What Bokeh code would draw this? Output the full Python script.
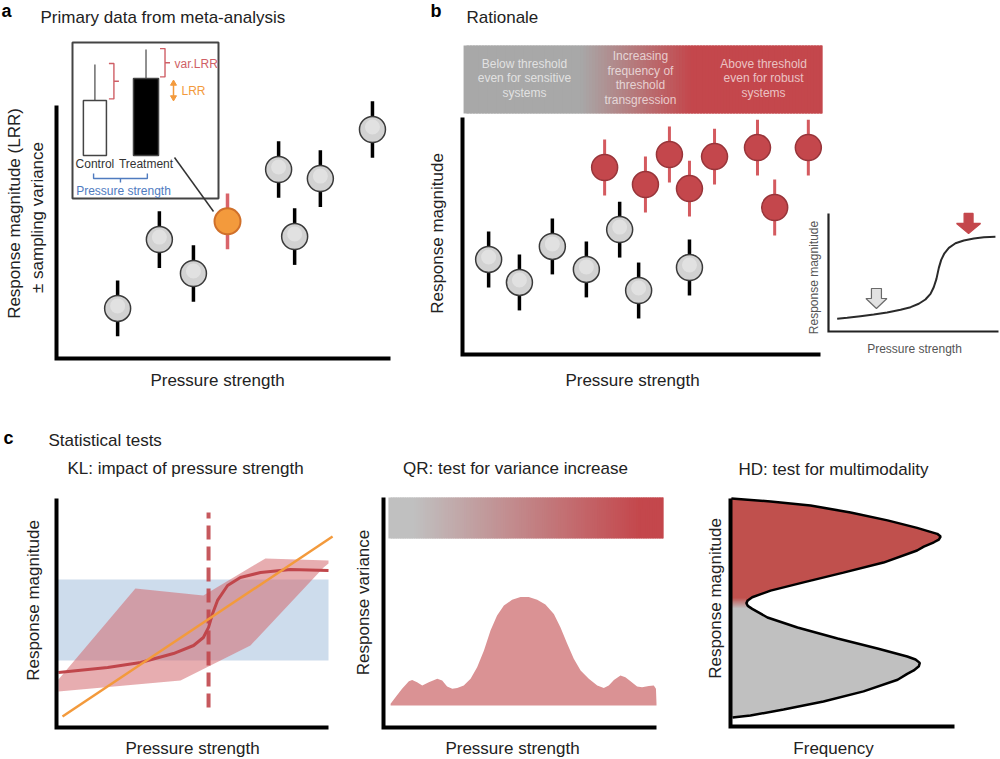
import numpy as np
from bokeh.plotting import figure
from bokeh.models import Range1d
from bokeh.layouts import row, column
from bokeh.embed import file_html
from bokeh.resources import INLINE
from bokeh.core.properties import value

FONT = "Liberation Sans"
INK = "#222222"
RED = "#c4474c"
RED_DARK = "#98353a"
RED_BAR = "#d45a5f"
GRAY_FILL = "#d2d2d2"
ORANGE = "#f39a3c"
BLUE = "#4f7bbf"

# ------------------------------------------------------------------ data
# (a) primary data: pressure strength, LRR, +/- sampling variance (axis units 0-10)
a_pressure = [1.83, 3.08, 4.10, 6.65, 7.13, 7.90, 9.46]
a_lrr = [1.98, 4.70, 3.36, 7.47, 4.82, 7.11, 9.05]
a_var = [1.10, 1.12, 1.12, 1.12, 1.12, 1.12, 1.12]
a_focus_pressure = [5.12]
a_focus_lrr = [5.42]
a_focus_var = [1.10]

# (a) inset: control vs treatment
inset_groups = ["Control", "Treatment"]
inset_pos = [1.15, 2.68]
inset_width = [0.69, 0.75]
inset_mean = [10.20, 11.07]
inset_upper = [11.62, 12.21]
inset_base = 8.02
inset_fill = ["white", "black"]

# (b) rationale
b_gray_pressure = [0.73, 1.59, 2.51, 3.46, 4.39, 4.92, 6.34]
b_gray_response = [4.01, 3.04, 4.56, 3.59, 5.27, 2.70, 3.67]
b_red_pressure = [3.97, 5.11, 5.78, 6.34, 7.04, 8.24, 8.72, 9.66]
b_red_response = [7.89, 7.17, 8.44, 7.00, 8.35, 8.73, 6.20, 8.73]
b_err = 1.18
b_zone_lines = [["Below threshold", "even for sensitive", "systems"],
                ["Increasing", "frequency of", "threshold", "transgression"],
                ["Above threshold", "even for robust", "systems"]]
b_zone_center = [1.73, 4.97, 8.41]
b_band = [0.03, 10.06, 10.17, 13.04]      # left, right, bottom, top
b_band_stops = [3.3, 6.4]

# (b) inset: threshold response curve
b_inset_pressure = [0.51, 1.10, 1.88, 2.66, 3.45, 4.24, 4.83, 5.31, 5.70, 6.00, 6.19,
                    6.35, 6.49, 6.63, 6.82, 7.08, 7.47, 7.96, 8.55, 9.14, 9.82]
b_inset_response = [1.08, 1.16, 1.30, 1.44, 1.61, 1.84, 2.06, 2.35, 2.71, 3.19, 3.75,
                    4.46, 5.39, 6.07, 6.63, 7.09, 7.48, 7.71, 7.88, 7.99, 8.03]
b_arrow_pressure = [2.82, 8.24]
b_arrow_tip = [1.95, 8.31]

# (c) KL
kl_upper_x = [0.07, 2.90, 5.40, 7.68, 10.0]
kl_upper_y = [2.10, 6.07, 5.76, 7.38, 7.29]
kl_lower_x = [10.0, 9.82, 7.13, 4.56, 0.07]
kl_lower_y = [7.16, 6.99, 3.58, 2.05, 1.57]
kl_fit_x = [0.07, 1.88, 3.09, 4.30, 5.04, 5.40, 5.59, 5.74, 5.92, 6.29, 6.76, 7.50, 8.60, 10.0]
kl_fit_y = [2.40, 2.62, 2.84, 3.23, 3.58, 3.93, 4.37, 4.98, 5.55, 6.20, 6.55, 6.77, 6.90, 6.86]
kl_lin_x = [0.22, 10.15]
kl_lin_y = [0.48, 8.34]
kl_breakpoint = 5.59
kl_break_span = [0.87, 9.39]
kl_band = [2.93, 6.46]

# (c) QR
qr_x = [0.26, 0.44, 0.68, 0.93, 1.05, 1.23, 1.42, 1.66, 1.97, 2.15, 2.33, 2.52, 2.70,
        2.94, 3.19, 3.43, 3.68, 3.92, 4.16, 4.41, 4.71, 5.02, 5.32, 5.63, 5.93, 6.24,
        6.48, 6.73, 6.97, 7.22, 7.52, 7.83, 8.07, 8.25, 8.44, 8.68, 8.86, 9.05, 9.29,
        9.47, 9.72, 9.90, 9.98, 10.0]
qr_y = [1.03, 1.32, 1.68, 2.01, 2.07, 1.97, 1.83, 1.97, 2.12, 2.04, 1.78, 1.68, 1.72,
        1.83, 2.12, 2.62, 3.35, 4.22, 4.87, 5.30, 5.55, 5.67, 5.67, 5.55, 5.35, 4.94,
        4.36, 3.64, 2.99, 2.48, 2.12, 1.83, 1.72, 1.83, 2.07, 2.26, 2.19, 2.01, 1.78,
        1.75, 1.80, 1.83, 1.68, 1.03]
qr_base = 0.96
qr_band = [0.18, 10.26, 8.22, 10.0]
qr_band_stops = [1.1, 9.4]

# (c) HD
hd_freq = [0.04, 1.79, 3.57, 5.36, 7.01, 8.33, 8.85, 9.23, 9.38, 9.30, 9.08, 8.63, 8.33,
           6.83, 5.04, 3.26, 1.79, 0.97, 0.77, 0.71, 0.77, 0.97, 1.65, 2.99, 4.78, 6.56,
           7.89, 8.26, 8.45, 8.41, 8.18, 7.89, 7.46, 5.94, 4.15, 2.37, 0.89, 0.09]
hd_resp = [10.0, 9.87, 9.69, 9.39, 9.04, 8.71, 8.56, 8.45, 8.33, 8.20, 8.08, 7.89, 7.72,
           7.19, 6.75, 6.32, 5.96, 5.67, 5.53, 5.41, 5.29, 5.16, 4.78, 4.34, 3.86, 3.42,
           3.07, 2.94, 2.79, 2.64, 2.46, 2.31, 2.05, 1.54, 1.10, 0.75, 0.48, 0.39]
hd_split = 19


# ------------------------------------------------------------------ helpers
class Panel:
    def __init__(self, left, top, W, H, ox, oy, xe, yt):
        self.ox, self.oy = ox, oy
        self.kx = 10.0 / (xe - ox)
        self.ky = 10.0 / (oy - yt)
        self.xr = Range1d(self.X(left), self.X(left + W))
        self.yr = Range1d(self.Y(top + H), self.Y(top))

    def X(self, px):
        return (px - self.ox) * self.kx

    def Y(self, py):
        return (self.oy - py) * self.ky


def make_fig(W, H, P):
    return figure(width=W, height=H, x_range=P.xr, y_range=P.yr,
                  x_axis_type=None, y_axis_type=None, toolbar_location=None, tools="",
                  output_backend="svg", min_border=0, outline_line_color=None,
                  background_fill_color="white", border_fill_color="white")


def T(p, x, y, s, size=17, color=INK, align="left", baseline="middle", angle=0.0,
      bold=False, alpha=1.0, **kw):
    p.text(x=[x], y=[y], text=[s], text_font=value(FONT), text_font_size=value(f"{size}px"),
           text_color=color, text_align=align, text_baseline=baseline, angle=angle,
           text_alpha=alpha, text_font_style="bold" if bold else "normal", **kw)


def axes(p, w=4, color="black", xlen=10, **kw):
    p.line([0, 0, xlen], [10, 0, 0], line_width=w, line_color=color, line_join="miter", **kw)


def mix(c0, c1, t):
    return "#%02x%02x%02x" % tuple(int(round(a + (b - a) * t)) for a, b in zip(c0, c1))


def gradient_band(p, x0, x1, y0, y1, c0, c1, s0, s1, n=120, **kw):
    edges = np.linspace(x0, x1, n + 1)
    step = edges[1] - edges[0]
    mids = (edges[:-1] + edges[1:]) / 2
    t = np.clip((mids - s0) / (s1 - s0), 0, 1)
    cols = [mix(c0, c1, tt) for tt in t]
    rights = np.minimum(edges[1:] + step * 0.8, x1)
    p.quad(left=edges[:-1], right=rights, bottom=y0, top=y1,
           fill_color=cols, line_color=None, **kw)


def dots(p, P, xs, ys, fill, line, lw=1.5):
    p.scatter(xs, ys, size=26, marker="circle", fill_color=fill, line_color=line, line_width=lw)
    p.scatter(xs, [y + 2.5 * P.ky for y in ys], size=15, marker="circle",
              fill_color="white", fill_alpha=0.35, line_color=None)


# ------------------------------------------------------------------ panel a
PA = Panel(0, 0, 425, 398, 56, 358, 390, 105)
fa = make_fig(425, 398, PA)
axes(fa)
fa.segment(x0=a_pressure, y0=[y - e for y, e in zip(a_lrr, a_var)],
           x1=a_pressure, y1=[y + e for y, e in zip(a_lrr, a_var)],
           line_width=3.5, line_color="black")
dots(fa, PA, a_pressure, a_lrr, GRAY_FILL, "#3a3a3a")
fa.segment(x0=a_focus_pressure, y0=[a_focus_lrr[0] - a_focus_var[0]],
           x1=a_focus_pressure, y1=[a_focus_lrr[0] + a_focus_var[0]],
           line_width=3.5, line_color="#d9646a")
fa.scatter(a_focus_pressure, a_focus_lrr, size=26, marker="circle", fill_color=ORANGE,
           line_color="#d0702a", line_width=2)

# inset box
fa.quad(left=[PA.X(72)], right=[PA.X(218)], bottom=[PA.Y(198)], top=[PA.Y(42)],
        fill_color="white", line_color="#444444", line_width=2)
fa.segment(x0=inset_pos, y0=inset_mean, x1=inset_pos, y1=inset_upper,
           line_color="#555555", line_width=1.3)
fa.vbar(x=inset_pos, width=inset_width, bottom=inset_base, top=inset_mean,
        fill_color=inset_fill, line_color="#444444", line_width=1.5)
BR = "#cf5f66"
for gx, m, u in zip(inset_pos, inset_mean, inset_upper):
    xv = gx + PA.kx * 19
    xl = gx + PA.kx * 14
    xt = gx + PA.kx * 24
    yl, yu = m + 0.06, u + 0.04
    fa.line([xl, xv, xv, xl], [yu, yu, yl, yl], line_color=BR, line_width=1.4)
    fa.line([xv, xt], [(yl + yu) / 2, (yl + yu) / 2], line_color=BR, line_width=1.4)
T(fa, PA.X(174), PA.Y(63), "var.LRR", size=12, color=BR)
xa = PA.X(173)
fa.segment(x0=[xa], y0=[PA.Y(96)], x1=[xa], y1=[PA.Y(84)], line_color=ORANGE, line_width=1.5)
fa.scatter([xa], [PA.Y(83)], marker="triangle", size=6, fill_color=ORANGE, line_color=ORANGE)
fa.scatter([xa], [PA.Y(97)], marker="inverted_triangle", size=6, fill_color=ORANGE, line_color=ORANGE)
T(fa, PA.X(181), PA.Y(90), "LRR", size=12, color=ORANGE)
for gx, g in zip(inset_pos, inset_groups):
    T(fa, gx, PA.Y(163), g, size=12, color="#333333", align="center")
fa.line([inset_pos[0] - 0.04, inset_pos[0] - 0.04, inset_pos[1] + 0.04, inset_pos[1] + 0.04],
        [PA.Y(173), PA.Y(178), PA.Y(178), PA.Y(173)], line_color=BLUE, line_width=1.4)
xm = (inset_pos[0] + inset_pos[1]) / 2
fa.line([xm, xm], [PA.Y(178), PA.Y(182)], line_color=BLUE, line_width=1.4)
T(fa, PA.X(123), PA.Y(190), "Pressure strength", size=12, color=BLUE, align="center")
fa.line([PA.X(174), PA.X(213)], [PA.Y(157), PA.Y(211)], line_color="#333333", line_width=1.5)

T(fa, PA.X(1), PA.Y(0), "a", size=18, bold=True, baseline="top", color="black")
T(fa, PA.X(40), PA.Y(17), "Primary data from meta-analysis", size=17)
T(fa, PA.X(14), PA.Y(213), "Response magnitude (LRR)", size=17, align="center", angle=np.pi / 2)
T(fa, PA.X(37), PA.Y(217), "± sampling variance", size=17, align="center", angle=np.pi / 2)
T(fa, PA.X(217), PA.Y(380), "Pressure strength", size=17, align="center")

# ------------------------------------------------------------------ panel b
PB = Panel(425, 0, 575, 398, 462, 354, 820, 117)
PI = Panel(425, 0, 575, 398, 828, 331, 998, 213)
fb = make_fig(575, 398, PB)
fb.extra_x_ranges = {"ix": PI.xr}
fb.extra_y_ranges = {"iy": PI.yr}

gradient_band(fb, b_band[0], b_band[1], b_band[2], b_band[3],
              (168, 168, 168), (196, 71, 76), b_band_stops[0], b_band_stops[1])
dy = 14.5 * PB.ky
yc = PB.Y(77.5)
for lines, cx in zip(b_zone_lines, b_zone_center):
    n = len(lines)
    for i, s in enumerate(lines):
        T(fb, cx, yc + (n - 1) / 2 * dy - i * dy, s, size=12, color="white",
          align="center", alpha=0.68)

axes(fb)
fb.segment(x0=b_gray_pressure, y0=[y - b_err for y in b_gray_response],
           x1=b_gray_pressure, y1=[y + b_err for y in b_gray_response],
           line_width=3.5, line_color="black")
dots(fb, PB, b_gray_pressure, b_gray_response, GRAY_FILL, "#3a3a3a")
fb.segment(x0=b_red_pressure, y0=[y - b_err for y in b_red_response],
           x1=b_red_pressure, y1=[y + b_err for y in b_red_response],
           line_width=3, line_color=RED_BAR)
fb.scatter(b_red_pressure, b_red_response, size=26, marker="circle", fill_color=RED,
           line_color=RED_DARK, line_width=1.5)

T(fb, PB.X(430), PB.Y(0), "b", size=18, bold=True, baseline="top", color="black")
T(fb, PB.X(466), PB.Y(17), "Rationale", size=17)
T(fb, PB.X(437), PB.Y(233), "Response magnitude", size=17, align="center", angle=np.pi / 2)
T(fb, PB.X(632), PB.Y(380), "Pressure strength", size=17, align="center")

IK = dict(x_range_name="ix", y_range_name="iy")
axes(fb, w=2.2, color="#222222", **IK)
fb.line(b_inset_pressure, b_inset_response, line_color="#2a2a2a", line_width=2, **IK)


def down_arrow(p, P, x, tip, fill, line, head_half, shaft_half, total=20, head=10):
    hh, sh = head_half * P.kx, shaft_half * P.kx
    ytip, yneck, ytop = tip, tip + head * P.ky, tip + total * P.ky
    xs = [x - sh, x + sh, x + sh, x + hh, x, x - hh, x - sh]
    ys = [ytop, ytop, yneck, yneck, ytip, yneck, yneck]
    p.patch(xs, ys, fill_color=fill, line_color=line, line_width=1.2, **IK)


down_arrow(fb, PI, b_arrow_pressure[0], b_arrow_tip[0], "#e2e2e2", "#6a6a6a", 10.5, 5)
down_arrow(fb, PI, b_arrow_pressure[1], b_arrow_tip[1], RED, RED, 12, 4.5)
T(fb, PI.X(813), PI.Y(277), "Response magnitude", size=12, color="#555555",
  align="center", angle=np.pi / 2, **IK)
T(fb, PI.X(914), PI.Y(348), "Pressure strength", size=12, color="#555555",
  align="center", **IK)

# ------------------------------------------------------------------ panel c: KL
P1 = Panel(0, 398, 345, 360, 56, 727, 328, 498)
f1 = make_fig(345, 360, P1)
f1.quad(left=[0], right=[10], bottom=[kl_band[0]], top=[kl_band[1]],
        fill_color="#cddcec", line_color=None)
f1.patch(kl_upper_x + kl_lower_x, kl_upper_y + kl_lower_y, fill_color="#d46a6f",
         fill_alpha=0.55, line_color=None)
f1.line([kl_breakpoint, kl_breakpoint], kl_break_span, line_color="#c0464b",
        line_width=4, line_dash="14 7", line_alpha=0.9)
f1.line(kl_fit_x, kl_fit_y, line_color="#c0464b", line_width=3)
f1.line(kl_lin_x, kl_lin_y, line_color=ORANGE, line_width=2.5)
axes(f1)
T(f1, P1.X(3), P1.Y(427), "c", size=18, bold=True, baseline="top", color="black")
T(f1, P1.X(48), P1.Y(440), "Statistical tests", size=17)
T(f1, P1.X(185), P1.Y(468), "KL: impact of pressure strength", size=17, align="center")
T(f1, P1.X(33), P1.Y(600), "Response magnitude", size=17, align="center", angle=np.pi / 2)
T(f1, P1.X(192), P1.Y(748), "Pressure strength", size=17, align="center")

# ------------------------------------------------------------------ panel c: QR
P2 = Panel(345, 398, 330, 360, 383, 727, 656, 497)
f2 = make_fig(330, 360, P2)
gradient_band(f2, qr_band[0], qr_band[1], qr_band[2], qr_band[3],
              (192, 192, 192), (196, 71, 76), qr_band_stops[0], qr_band_stops[1])
f2.varea(x=qr_x, y1=[qr_base] * len(qr_x), y2=qr_y, fill_color="#da9294")
axes(f2)
T(f2, P2.X(515), P2.Y(468), "QR: test for variance increase", size=17, align="center")
T(f2, P2.X(363), P2.Y(602), "Response variance", size=17, align="center", angle=np.pi / 2)
T(f2, P2.X(512), P2.Y(748), "Pressure strength", size=17, align="center")

# ------------------------------------------------------------------ panel c: HD
P3 = Panel(675, 398, 325, 360, 730, 726, 954, 498)
f3 = make_fig(325, 360, P3)
HD_RED, HD_GRAY = (192, 80, 77), (192, 192, 192)
f3.harea(y=hd_resp[:hd_split + 1], x1=[0] * (hd_split + 1), x2=hd_freq[:hd_split + 1],
         fill_color=mix(HD_RED, HD_RED, 0))
f3.harea(y=hd_resp[hd_split:], x1=[0] * (len(hd_resp) - hd_split), x2=hd_freq[hd_split:],
         fill_color=mix(HD_GRAY, HD_GRAY, 0))
# soft red-to-gray transition near the antimode, close to the axis
g_edges = np.linspace(hd_resp[hd_split + 2], hd_resp[hd_split - 2], 13)
g_t = np.linspace(0, 1, 12)
f3.quad(left=0, right=hd_freq[hd_split] * 0.98, bottom=g_edges[:-1], top=g_edges[1:] + 0.02,
        fill_color=[mix(HD_GRAY, HD_RED, t) for t in g_t], line_color=None)
f3.line(hd_freq, hd_resp, line_color="black", line_width=2.5)
axes(f3)
T(f3, P3.X(833), P3.Y(469), "HD: test for multimodality", size=17, align="center")
T(f3, P3.X(715), P3.Y(598), "Response magnitude", size=17, align="center", angle=np.pi / 2)
T(f3, P3.X(833), P3.Y(748), "Frequency", size=17, align="center")

layout = column(row(fa, fb, spacing=0), row(f1, f2, f3, spacing=0), spacing=0)
open("out.html", "w").write(file_html(layout, INLINE))
